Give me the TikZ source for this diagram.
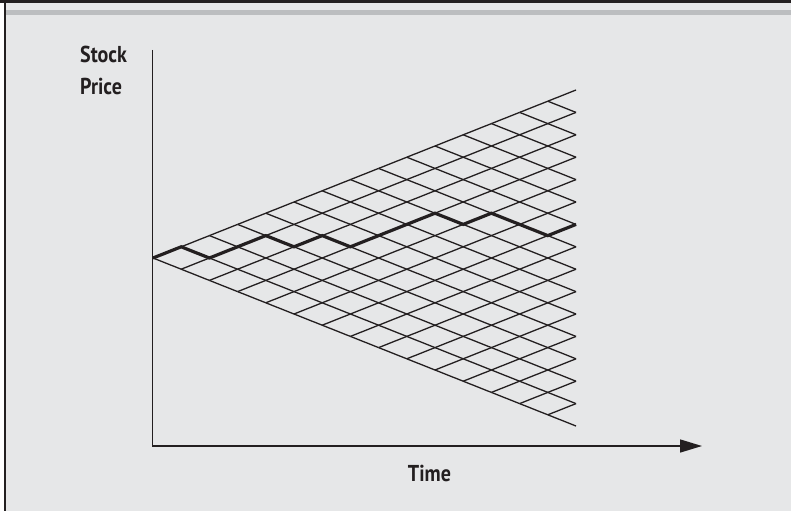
\documentclass[tikz,border=0pt]{standalone}
\usepackage{graphicx}
\usepackage{fontspec}
\setsansfont{PT Sans}
\usetikzlibrary{arrows.meta}
\definecolor{bg}{HTML}{E6E7E8}
\definecolor{band}{HTML}{BCBEC0}
\definecolor{ink}{HTML}{231F20}
\begin{document}
\begin{tikzpicture}[x=1pt,y=-1pt,
  grid/.style={draw=ink, line width=1.3pt},
  pathline/.style={draw=ink, line width=3.2pt, line join=miter},
  axis/.style={draw=ink, line width=1.5pt},
  lbl/.style={font=\sffamily\bfseries\fontsize{23}{26}\selectfont, text=ink, inner sep=0pt}]
\useasboundingbox (0,0) rectangle (791,511);
\fill[white] (0,0) rectangle (791,511);
\fill[bg] (5,0) rectangle (791,511);
\fill[band] (5,10) rectangle (791,15);
\fill[ink] (0,0) rectangle (791,3);
\draw[ink, line width=1.5pt] (5,0) -- (5,511);
% lattice coordinates
\foreach \i in {0,...,15}{
  \foreach \k in {0,...,\i}{
    \coordinate (n-\i-\k) at ({153+28.2*\i},{258-11.2*(2*\k-\i)});
  }
}
\foreach \i in {0,...,14}{
  \pgfmathtruncatemacro\ni{\i+1}
  \foreach \k in {0,...,\i}{
    \pgfmathtruncatemacro\nk{\k+1}
    \draw[grid] (n-\i-\k) -- (n-\ni-\k);
    \draw[grid] (n-\i-\k) -- (n-\ni-\nk);
  }
}
\draw[pathline] (n-0-0) -- (n-1-1) -- (n-2-1) -- (n-3-2) -- (n-4-3) -- (n-5-3) -- (n-6-4) -- (n-7-4) -- (n-8-5) -- (n-9-6) -- (n-10-7) -- (n-11-7) -- (n-12-8) -- (n-13-8) -- (n-14-8) -- (n-15-9);
% axes
\coordinate (ytop) at (152.5,50);
\coordinate (origin) at (152.5,446);
\coordinate (xend) at (702,446);
\draw[axis, -{Triangle[length=22pt,width=13pt]}] (ytop) -- (origin) -- (xend);
% labels
\node[lbl, anchor=base west] (stock) at (80,63) {\scalebox{0.87}[1]{Stock}};
\node[lbl, anchor=base west] (price) at (80,94) {\scalebox{0.87}[1]{Price}};
\node[lbl, anchor=base] (time) at (429.5,481.5) {\scalebox{0.87}[1]{Time}};
\end{tikzpicture}
\end{document}
